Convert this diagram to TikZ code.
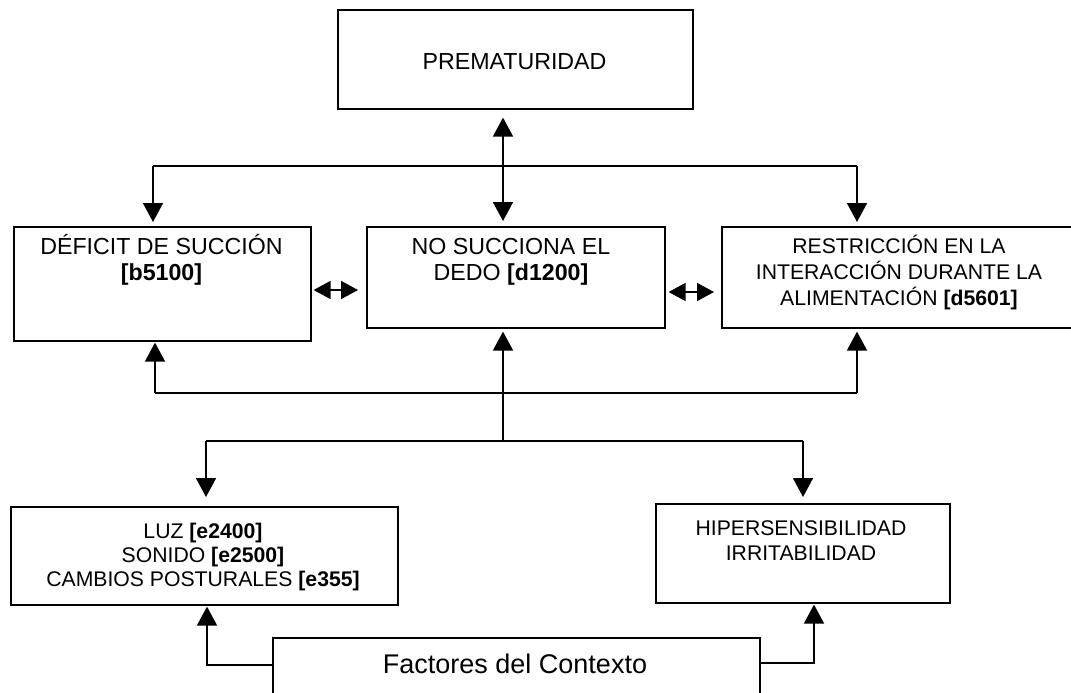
\documentclass[tikz,border=0pt]{standalone}
\usepackage{fontspec}
\setmainfont{Liberation Sans}
\usetikzlibrary{arrows.meta}
\begin{document}
\begin{tikzpicture}[x=1pt,y=-1pt,
  box/.style={draw, line width=1.6pt, inner sep=0pt, anchor=north west},
  tl/.style={anchor=base, inner sep=0pt, font=\fontsize{23.2}{26}\selectfont},
  ts/.style={anchor=base, inner sep=0pt, font=\fontsize{21.2}{24}\selectfont},
  tb/.style={anchor=base, inner sep=0pt, font=\fontsize{27}{30}\selectfont},
  ln/.style={line width=1.6pt},
  arr/.style={line width=1.6pt, -{Triangle[length=19pt,width=20pt]}},
  arrtwo/.style={line width=1.6pt, {Triangle[length=19pt,width=20pt]}-{Triangle[length=19pt,width=20pt]}},
  sarr/.style={line width=1.6pt, {Triangle[length=17pt,width=18pt]}-{Triangle[length=17pt,width=18pt]}}]
\useasboundingbox[fill=white] (0,0) rectangle (1071,693);

% boxes
\node[box, minimum width=355pt, minimum height=99pt]  (prem) at (337,9)   {};
\node[box, minimum width=297pt, minimum height=114pt] (def)  at (13,226)  {};
\node[box, minimum width=298pt, minimum height=101pt] (nos)  at (366,226) {};
\node[box, minimum width=356pt, minimum height=101pt] (res)  at (721,226) {};
\node[box, minimum width=387pt, minimum height=98pt]  (luz)  at (10,506)  {};
\node[box, minimum width=294pt, minimum height=99pt]  (hip)  at (655,503) {};
\node[box, minimum width=487pt, minimum height=56pt]  (fac)  at (272,637) {};

% texts
\node[tl] (premA) at (514.5,70) {PREMATURIDAD};
\node[tl] (defA) at (161.5,254) {DÉFICIT DE SUCCIÓN};
\node[tl] (defB) at (161.5,280) {\textbf{[b5100]}};
\node[tl] (nosA) at (511,254) {NO SUCCIONA EL};
\node[tl] (nosB) at (511,280) {DEDO \textbf{[d1200]}};
\node[ts] (resA) at (899,253) {RESTRICCIÓN EN LA};
\node[ts] (resB) at (899,279) {INTERACCIÓN DURANTE LA};
\node[ts] (resC) at (899,305) {ALIMENTACIÓN \textbf{[d5601]}};
\node[ts] (luzA) at (203,538) {LUZ \textbf{[e2400]}};
\node[ts] (luzB) at (203,562) {SONIDO \textbf{[e2500]}};
\node[ts] (luzC) at (203,586) {CAMBIOS POSTURALES \textbf{[e355]}};
\node[ts] (hipA) at (801,535) {HIPERSENSIBILIDAD};
\node[ts] (hipB) at (801,560) {IRRITABILIDAD};
\node[tb] (facA) at (515,673) {Factores del Contexto};

% junction points
\coordinate (ta) at (153,166);
\coordinate (tm) at (503,166);
\coordinate (tr) at (857,166);
\coordinate (ma) at (155,393);
\coordinate (mr) at (857,393);
\coordinate (la) at (206,441);
\coordinate (lm) at (503,441);
\coordinate (lr) at (803,441);
\coordinate (ba) at (207,665);
\coordinate (br) at (814,663);
\coordinate (sa) at (0,290);
\coordinate (sb) at (0,292);

% upper level
\draw[arrtwo] ([yshift=-8pt]prem.south -| tm) -- ([yshift=5pt]nos.north -| tm);
\draw[ln] (ta) -- (tr);
\draw[arr] (ta) -- ([yshift=4pt]def.north -| ta);
\draw[arr] (tr) -- ([yshift=4pt]res.north -| tr);

% links between the middle boxes
\draw[sarr] ([xshift=2pt]def.east |- sa) -- ([xshift=-8pt]nos.west |- sa);
\draw[sarr] ([xshift=3pt]nos.east |- sb) -- ([xshift=-7pt]res.west |- sb);

% middle level
\draw[ln] (ma) -- (mr);
\draw[arr] (ma) -- ([yshift=-1pt]def.south -| ma);
\draw[arr] (mr) -- ([yshift=-3pt]res.south -| mr);
\draw[arr] (lm) -- ([yshift=-3pt]nos.south -| lm);

% lower level
\draw[ln] (la) -- (lr);
\draw[arr] (la) -- ([yshift=9pt]luz.north -| la);
\draw[arr] (lr) -- ([yshift=6pt]hip.north -| lr);

% context factors
\draw[arr] (fac.west |- ba) -| ([yshift=-1pt]luz.south -| ba);
\draw[arr] (fac.east |- br) -| ([yshift=-1pt]hip.south -| br);
\end{tikzpicture}
\end{document}
